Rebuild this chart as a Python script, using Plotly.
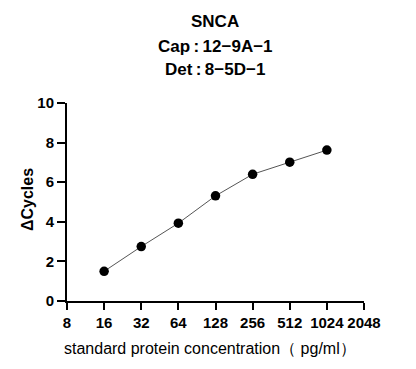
import plotly.graph_objects as go
import math

concentrations = [16, 32, 64, 128, 256, 512, 1024]
delta_cycles = [1.5, 2.75, 3.93, 5.31, 6.4, 7.01, 7.62]
x_ticks = [8, 16, 32, 64, 128, 256, 512, 1024, 2048]
y_ticks = [0, 2, 4, 6, 8, 10]
title_lines = ["SNCA", "Cap\u2009:\u200912\u22129A\u22121", "Det\u2009:\u20098\u22125D\u22121"]

# the page body has an 8px default margin; compensate
OFF = 8
W, H = 416 - OFF, 369 - OFF
L, T, R, B = 67 - OFF, 103 - OFF, 52, 68

fig = go.Figure()
fig.add_trace(go.Scatter(
    x=concentrations, y=delta_cycles, mode="lines+markers",
    line=dict(color="#555555", width=1),
    marker=dict(color="black", size=9.5),
    showlegend=False, cliponaxis=False,
))

tickfont = dict(family="Arial, Liberation Sans", size=15, color="black", weight="bold")
fig.update_layout(
    width=W, height=H,
    margin=dict(l=L, r=R, t=T, b=B),
    paper_bgcolor="white", plot_bgcolor="white",
    xaxis=dict(
        type="log", range=[math.log10(8), math.log10(2048)],
        tickvals=x_ticks, ticktext=[str(v) for v in x_ticks],
        showgrid=False, zeroline=False, automargin=False,
        showline=True, linecolor="black", linewidth=2,
        ticks="outside", ticklen=7, tickwidth=2, tickcolor="black",
        tickfont=tickfont,
    ),
    yaxis=dict(
        range=[0, 10], tickvals=y_ticks,
        showgrid=False, zeroline=False, automargin=False,
        showline=True, linecolor="black", linewidth=2,
        ticks="outside", ticklen=8, tickwidth=2, tickcolor="black",
        tickfont=tickfont,
    ),
)

plot_h = H - T - B
plot_w = W - L - R

def py(page_y):
    return 1 - (page_y - OFF - T) / plot_h

def px(page_x):
    return (page_x - OFF - L) / plot_w

ys = [22, 47, 70]
for txt, yy in zip(title_lines, ys):
    fig.add_annotation(
        text=txt, xref="paper", yref="paper", x=px(215), y=py(yy),
        yanchor="middle", xanchor="center", showarrow=False,
        font=dict(family="Arial, Liberation Sans", size=17, color="black", weight="bold"),
    )

fig.add_annotation(
    text="standard protein concentration（ pg/ml）", xref="paper", yref="paper",
    x=px(210), y=py(348),
    xanchor="center", yanchor="middle", showarrow=False,
    font=dict(family="Arial, Liberation Sans", size=16, color="black"),
)
fig.add_annotation(
    text="ΔCycles", xref="paper", yref="paper",
    x=px(27), y=py(200),
    xanchor="center", yanchor="middle", showarrow=False, textangle=-90,
    font=dict(family="Arial, Liberation Sans", size=16, color="black", weight="bold"),
)

fig.write_html("out.html")
